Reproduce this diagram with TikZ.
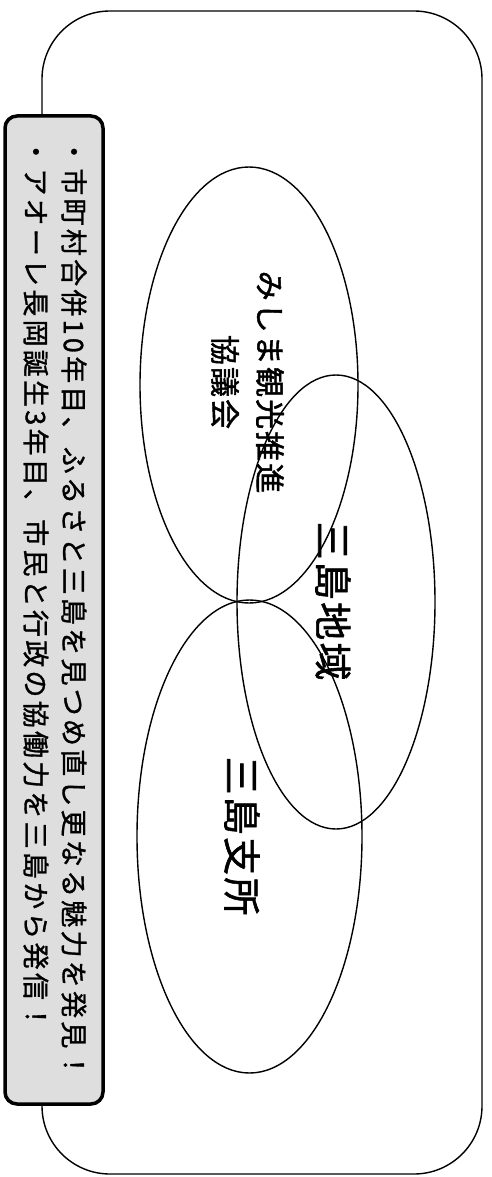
\documentclass[tikz,border=0pt]{standalone}
\usepackage{fontspec}
\usetikzlibrary{shapes.geometric}
\newfontfamily\jpcall[LetterSpace=12,FakeBold=1.2]{Noto Sans CJK JP}
\newfontfamily\jplab[LetterSpace=7,FakeBold=1.5]{Noto Sans CJK JP}
\newfontfamily\jpbig[LetterSpace=6,FakeBold=1.5]{Noto Sans CJK JP}
\tikzset{
  frame/.style={draw=black, line width=1.4pt, rounded corners=68pt, inner sep=0pt},
  venn/.style={ellipse, draw=black, line width=1.4pt, inner sep=0pt},
  callbox/.style={draw=black, line width=3.5pt, fill=black!13, rounded corners=12pt, inner sep=0pt},
  calltext/.style={rotate=-90, inner sep=0pt, font=\jpcall\fontsize{27}{30}\selectfont},
  vennlabel/.style={rotate=-90, inner sep=0pt, font=\jplab\fontsize{30}{36}\selectfont},
  vennbig/.style={rotate=-90, inner sep=0pt, font=\jpbig\fontsize{38}{40}\selectfont},
}
\begin{document}
\begin{tikzpicture}[x=1pt,y=1pt]
\useasboundingbox (0,0) rectangle (491,-1177);
\fill[white] (0,0) rectangle (491,-1177);
% outer frame
\node[frame, minimum width=440pt, minimum height=1163pt] (outer) at (262,-592.5) {};
% ellipses
\node[venn, minimum width=218pt, minimum height=436pt] (kankou) at (249,-385) {};
\node[venn, minimum width=198pt, minimum height=454pt] (chiiki) at (336,-602) {};
\node[venn, minimum width=225pt, minimum height=473pt] (shisho) at (249.5,-836.5) {};
% labels
\node[vennlabel] (l1a) at (270,-382) {みしま観光推進};
\node[vennlabel] (l1b) at (225,-382) {協議会};
\node[vennbig] (l2) at (333,-601) {三島地域};
\node[vennbig] (l3) at (242,-836) {三島支所};
% callout
\node[callbox, minimum width=98pt, minimum height=988pt] (call) at (54,-610) {};
\node[calltext, anchor=west] (t1) at (74,-138) {・市町村合併10年目、ふるさと三島を見つめ直し更なる魅力を発見！};
\node[calltext, anchor=west] (t2) at (36,-138) {・アオーレ長岡誕生3年目、市民と行政の協働力を三島から発信！};
\end{tikzpicture}
\end{document}
